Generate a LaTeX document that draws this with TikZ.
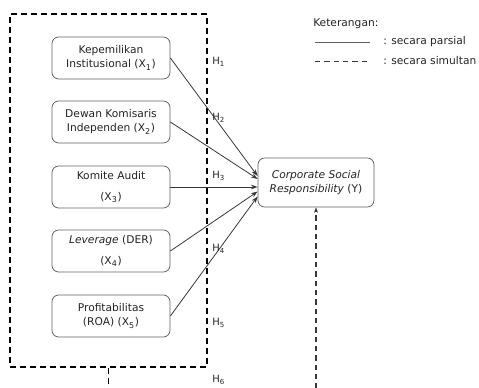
\documentclass[tikz,border=0pt]{standalone}
\usepackage{fontspec}
\setmainfont{DejaVu Sans}
\usetikzlibrary{positioning, calc, arrows.meta}
\definecolor{csrGray}{RGB}{95,95,95}
\definecolor{csrLine}{RGB}{55,55,55}
\definecolor{csrText}{RGB}{35,35,35}

\tikzset{
  varbox/.style={draw=csrGray, line width=0.6pt, rounded corners=5pt, minimum width=88.5pt, minimum height=31.5pt, align=center, inner sep=2pt, text=csrText, font=\fontsize{8}{10.5}\selectfont},
  hlabel/.style={anchor=west, inner sep=0pt, text=csrText, font=\fontsize{7.5}{9}\selectfont},
  partial/.style={draw=csrLine, line width=0.6pt, -{Stealth[length=5pt,width=3.5pt]}},
  simul/.style={draw=black, line width=1.1pt, dash pattern=on 4.5pt off 3pt},
  simulthin/.style={draw=csrLine, line width=0.9pt, dash pattern=on 4pt off 3pt}
}

\begin{document}
\begin{tikzpicture}[x=0.75pt, y=-0.75pt]
    \useasboundingbox (0,0) rectangle (479,388);

    % dashed group round the independent variables
    \node[simul, minimum width=147.75pt, minimum height=264.75pt] (grp) at (108.5,190.5) {};

    \node[varbox] (x1) at (111,58) {Kepemilikan\\Institusional (X\textsubscript{1})};
    \node[varbox] (x2) at (111,122) {Dewan Komisaris\\Independen (X\textsubscript{2})};
    \node[varbox] (x3) at (111,187) {Komite Audit\\[5pt](X\textsubscript{3})};
    \node[varbox] (x4) at (111,251) {\textit{Leverage} (DER)\\[5pt](X\textsubscript{4})};
    \node[varbox] (x5) at (111,316) {Profitabilitas\\(ROA) (X\textsubscript{5})};

    \node[varbox, minimum width=87pt, minimum height=36.75pt] (csr) at (316,182.5) {\textit{Corporate Social}\\\textit{Responsibility} (Y)};

    % partial paths
    \draw[partial] (x1.east) -- ($(csr.west)+(0,-6.5)$);
    \draw[partial] (x2.east) -- ($(csr.west)+(0,-3.5)$);
    \draw[partial] (x3.east) -- (x3.east -| csr.west);
    \draw[partial] (x4.east) -- ($(csr.west)+(0,9)$);
    \draw[partial] (x5.east) -- ($(csr.west)+(0,14)$);

    \node[hlabel] (h1) at (212,62) {H\textsubscript{1}};
    \node[hlabel] (h2) at (212,118) {H\textsubscript{2}};
    \node[hlabel] (h3) at (212,176) {H\textsubscript{3}};
    \node[hlabel] (h4) at (212,249) {H\textsubscript{4}};
    \node[hlabel] (h5) at (212,323) {H\textsubscript{5}};
    \node[hlabel] (h6) at (212,380) {H\textsubscript{6}};

    % simultaneous path (runs off the bottom)
    \coordinate (grpend) at ($(grp.south)+(0,21)$);
    \coordinate (csrend) at (csr.south |- grpend);
    \draw[simul] (grp.south) -- (grpend);
    \draw[simulthin, -{Stealth[length=4pt,width=3pt]}] (csrend) -- (csr.south);

    % legend
    \node[anchor=west, inner sep=0pt, text=csrText, font=\fontsize{8}{10}\selectfont] (ket) at (313,24) {Keterangan:};
    \coordinate (solA) at (315,42);
    \coordinate (solB) at (370,42);
    \coordinate (dshA) at (315,61);
    \coordinate (dshB) at (370,61);
    \draw[draw=csrGray, line width=0.6pt] (solA) -- (solB);
    \draw[draw=csrLine, line width=0.7pt, dash pattern=on 4pt off 3pt] (dshA) -- (dshB);
    \node[anchor=west, inner sep=0pt, text=csrText, font=\fontsize{8}{10}\selectfont] (parsial) at (383,42) {: secara parsial};
    \node[anchor=west, inner sep=0pt, text=csrText, font=\fontsize{8}{10}\selectfont] (simultan) at (383,61) {: secara simultan};
\end{tikzpicture}
\end{document}
